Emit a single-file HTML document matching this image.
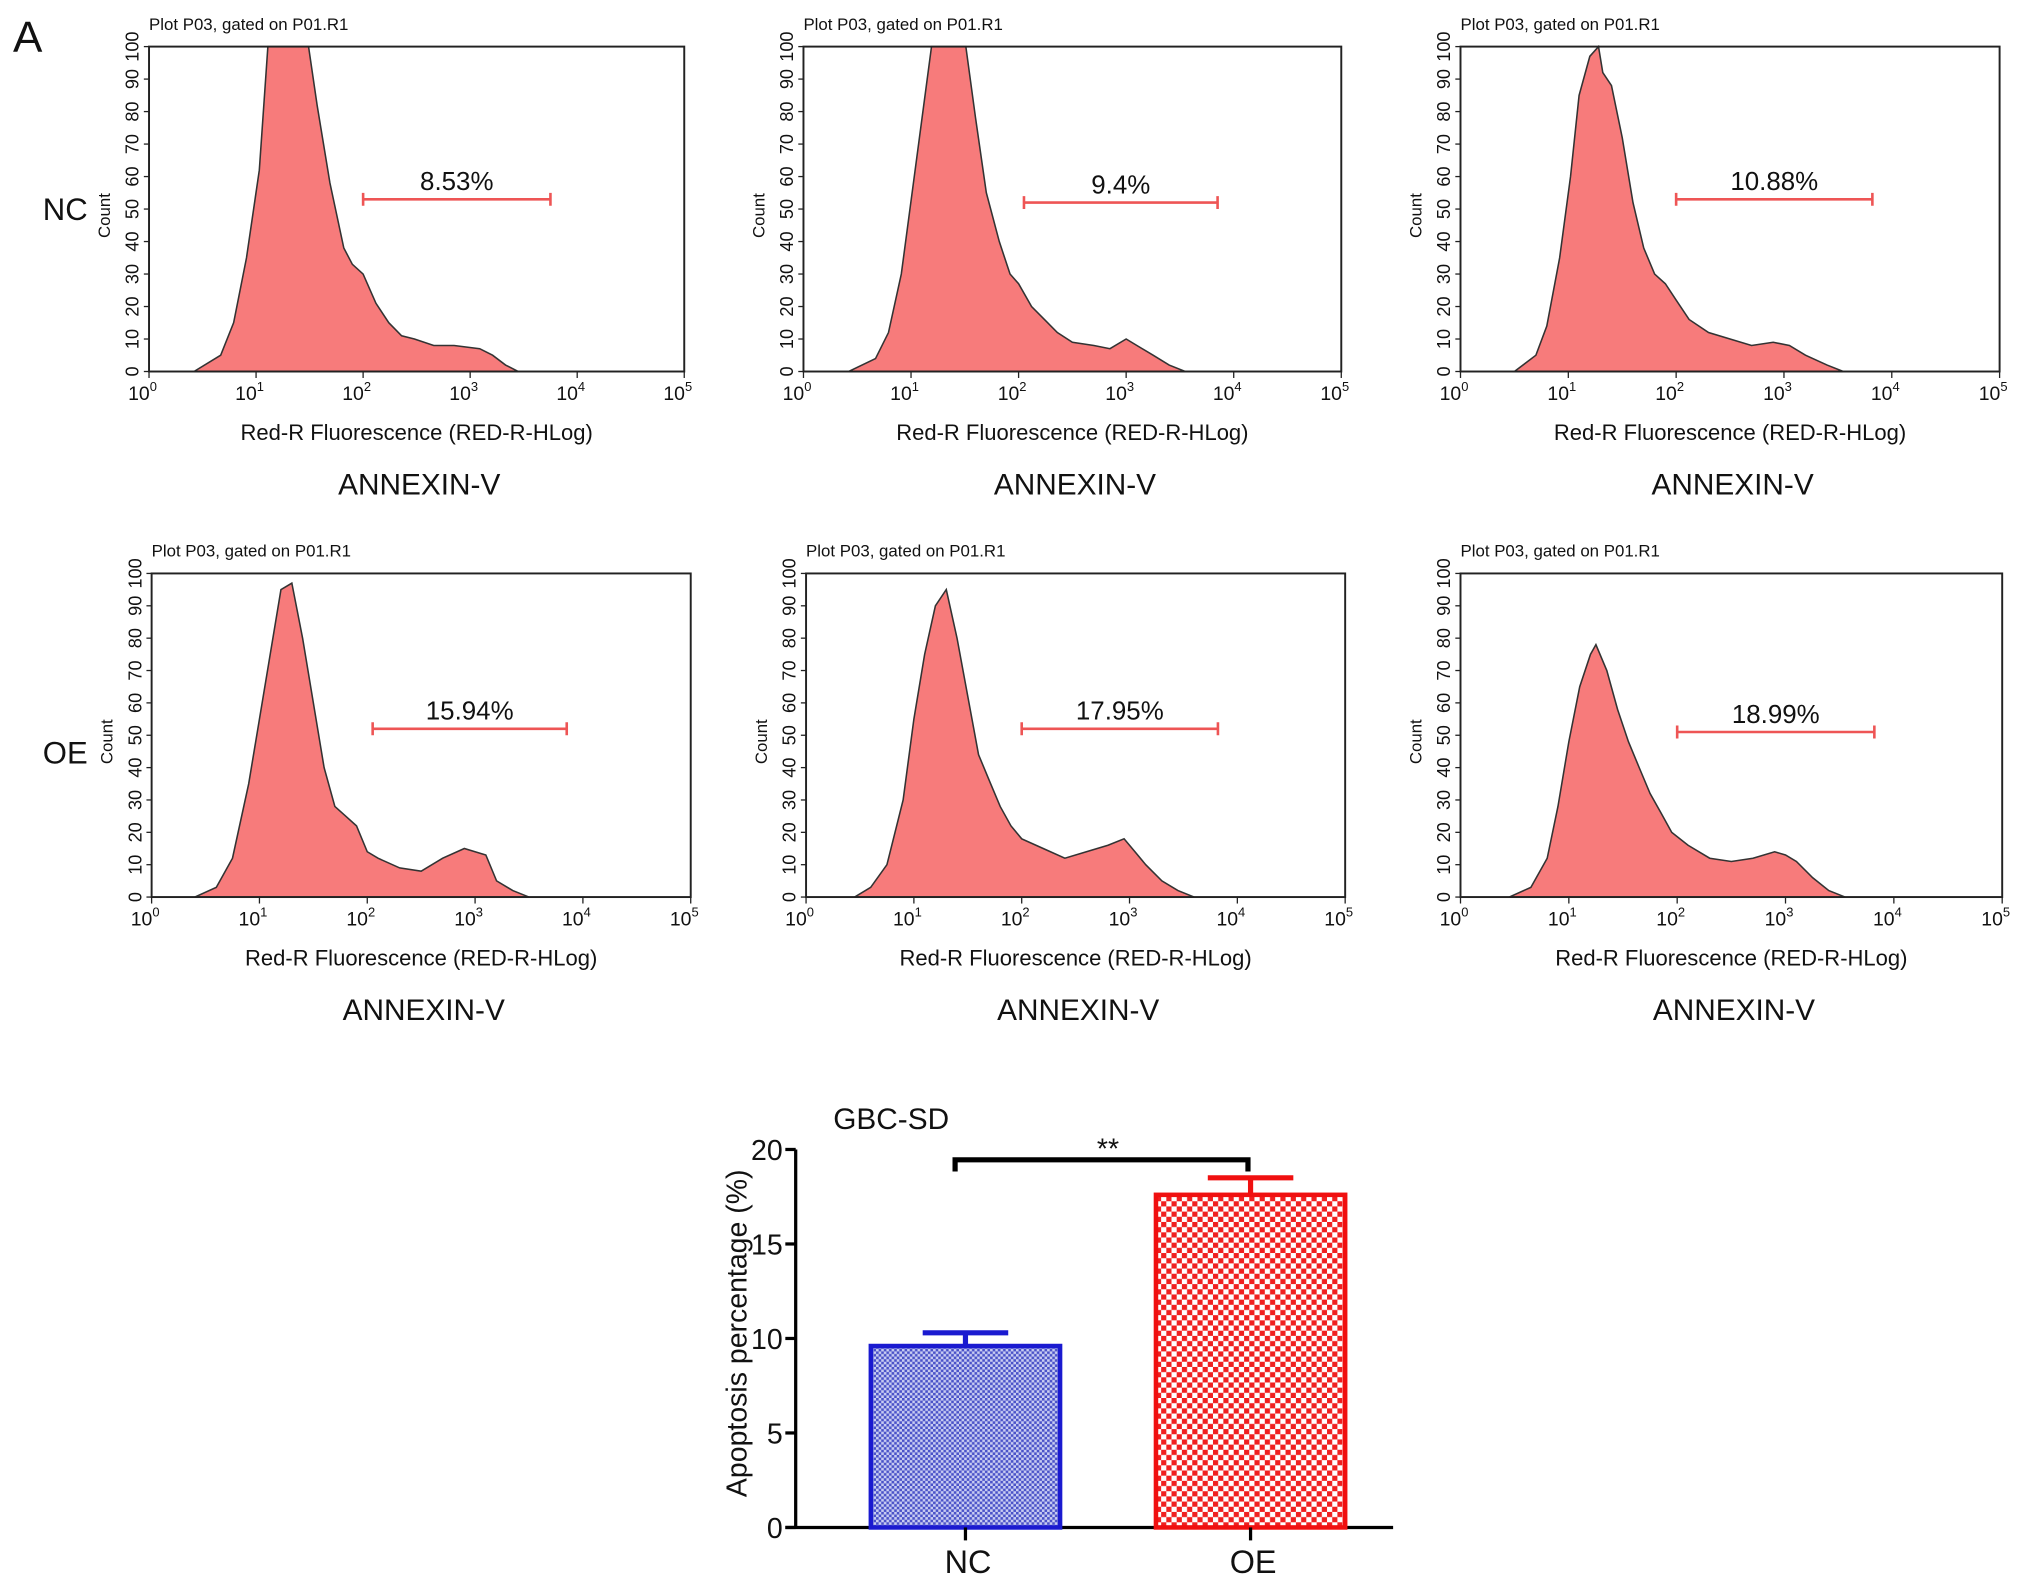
<!DOCTYPE html>
<html><head><meta charset="utf-8"><style>
html,body{margin:0;padding:0;background:#fff}
svg{display:block}
text{font-family:"Liberation Sans",Arial,sans-serif;fill:#111}
</style></head><body>
<svg id="fig" width="2032" height="1587" viewBox="0 0 1568 1226" preserveAspectRatio="none" xmlns="http://www.w3.org/2000/svg">
<defs>
<pattern id="bluePat" width="4" height="4" patternUnits="userSpaceOnUse"><rect width="4" height="4" fill="#c9cdf2"/><rect width="2" height="2" fill="#4a52c8"/><rect x="2" y="2" width="2" height="2" fill="#4a52c8"/></pattern>
<pattern id="redPat" width="8" height="8" patternUnits="userSpaceOnUse"><rect width="8" height="8" fill="#fff"/><rect width="4" height="4" fill="#f02020"/><rect x="4" y="4" width="4" height="4" fill="#f02020"/></pattern>
</defs>
<text x="10" y="40" font-size="34">A</text>
<text x="33" y="170" font-size="24">NC</text>
<text x="33" y="590" font-size="24">OE</text>
<g id="hists"></g>
<g id="bars"></g>
</svg>
<script>
const NS="http://www.w3.org/2000/svg";
function mk(tag,attrs,parent,txt){const e=document.createElementNS(NS,tag);for(const k in attrs)e.setAttribute(k,attrs[k]);if(txt!==undefined)e.textContent=txt;parent.appendChild(e);return e;}

// ---- Histogram data (x in log10 units, y = count) ----
const histLogX_nc1=[0.42,0.67,0.79,0.91,1.03,1.11,1.49,1.57,1.69,1.82,1.90,2.0,2.12,2.24,2.36,2.48,2.66,2.85,3.09,3.21,3.33,3.45];
const histCount_nc1=[0,5,15,35,62,100,100,82,58,38,33,30,21,15,11,10,8,8,7,5,2,0];
const histLogX_nc2=[0.42,0.67,0.79,0.91,1.03,1.19,1.51,1.6,1.7,1.82,1.92,2.0,2.12,2.24,2.36,2.5,2.7,2.85,3.0,3.1,3.25,3.4,3.55];
const histCount_nc2=[0,4,12,30,60,100,100,78,55,40,30,27,20,16,12,9,8,7,10,8,5,2,0];
const histLogX_nc3=[0.5,0.7,0.8,0.92,1.02,1.1,1.2,1.28,1.32,1.4,1.5,1.6,1.7,1.8,1.9,2.0,2.12,2.3,2.5,2.7,2.9,3.05,3.2,3.4,3.55];
const histCount_nc3=[0,5,14,35,60,85,97,100,92,88,72,52,38,30,27,22,16,12,10,8,9,8,5,2,0];
const histLogX_oe1=[0.4,0.6,0.75,0.9,1.0,1.1,1.2,1.3,1.4,1.5,1.6,1.7,1.8,1.9,2.0,2.1,2.3,2.5,2.7,2.9,3.0,3.1,3.2,3.35,3.5];
const histCount_oe1=[0,3,12,35,55,75,95,97,80,60,40,28,25,22,14,12,9,8,12,15,14,13,5,2,0];
const histLogX_oe2=[0.45,0.6,0.75,0.9,1.0,1.1,1.2,1.3,1.4,1.5,1.6,1.7,1.8,1.9,2.0,2.2,2.4,2.6,2.8,2.95,3.05,3.15,3.3,3.45,3.6];
const histCount_oe2=[0,3,10,30,55,75,90,95,80,62,44,36,28,22,18,15,12,14,16,18,14,10,5,2,0];
const histLogX_oe3=[0.45,0.65,0.8,0.9,1.0,1.1,1.2,1.25,1.35,1.45,1.55,1.65,1.75,1.85,1.95,2.1,2.3,2.5,2.7,2.9,3.0,3.1,3.25,3.4,3.55];
const histCount_oe3=[0,3,12,28,48,65,75,78,70,58,48,40,32,26,20,16,12,11,12,14,13,11,6,2,0];
const gatePct=["8.53%","9.4%","10.88%","15.94%","17.95%","18.99%"];
const gateLogStart=[2.0,2.05,2.0,2.05,2.0,2.0];
const gateLogEnd=[3.75,3.85,3.82,3.85,3.82,3.82];
const gateCount=[53,52,53,52,52,51];
const yTicks=[0,10,20,30,40,50,60,70,80,90,100];
const xTickExp=[0,1,2,3,4,5];

const panels=[
 {x0:115,x1:528,y0:36,y1:287,lx:histLogX_nc1,c:histCount_nc1},
 {x0:620,x1:1035,y0:36,y1:287,lx:histLogX_nc2,c:histCount_nc2},
 {x0:1127,x1:1543,y0:36,y1:287,lx:histLogX_nc3,c:histCount_nc3},
 {x0:117,x1:533,y0:443,y1:693,lx:histLogX_oe1,c:histCount_oe1},
 {x0:622,x1:1038,y0:443,y1:693,lx:histLogX_oe2,c:histCount_oe2},
 {x0:1127,x1:1545,y0:443,y1:693,lx:histLogX_oe3,c:histCount_oe3}
];
const hg=document.getElementById('hists');
panels.forEach((p,i)=>{
  const g=mk('g',{},hg);
  
  
  const sx=v=>p.x0+(p.x1-p.x0)*v/5;
  const sy=v=>p.y1-(p.y1-p.y0)*Math.min(v,100)/100;
  const t=mk('text',{x:p.x0,y:p.y0-13,'font-size':13},g,'Plot P03, gated on P01.R1');
  
  
  let d='M'+sx(p.lx[0])+','+sy(0);
  p.lx.forEach((lx,k)=>{d+=' L'+sx(lx).toFixed(1)+','+sy(p.c[k]).toFixed(1);});
  d+=' L'+sx(p.lx[p.lx.length-1])+','+sy(0)+' Z';
  const area=mk('path',{d:d,fill:'#f77b7b',stroke:'#333','stroke-width':1.2},g);
  
  
  const box=mk('rect',{x:p.x0,y:p.y0,width:p.x1-p.x0,height:p.y1-p.y0,fill:'none',stroke:'#222','stroke-width':1.5},g);
  
  
  yTicks.forEach(v=>{
    mk('line',{x1:p.x0-4,x2:p.x0,y1:sy(v),y2:sy(v),stroke:'#222'},g);
    const yt=mk('text',{x:0,y:0,'font-size':14,'text-anchor':'middle',transform:`translate(${p.x0-8},${sy(v)}) rotate(-90)`},g,String(v));
    
    
  });
  const yl=mk('text',{x:0,y:0,'font-size':13,'text-anchor':'middle',transform:`translate(${p.x0-30},${(p.y0+p.y1)/2+5}) rotate(-90)`},g,'Count');
  
  
  xTickExp.forEach(e=>{
    mk('line',{x1:sx(e),x2:sx(e),y1:p.y1,y2:p.y1+5,stroke:'#222'},g);
    const xt=mk('text',{x:sx(e)-5,y:p.y1+22,'font-size':15,'text-anchor':'middle'},g);
    
    
    mk('tspan',{},xt,'10');
    mk('tspan',{dy:-7,'font-size':10},xt,String(e));
  });
  const xl=mk('text',{x:(p.x0+p.x1)/2,y:p.y1+53,'font-size':17,'text-anchor':'middle'},g,'Red-R Fluorescence (RED-R-HLog)');
  
  
  const an=mk('text',{x:(p.x0+p.x1)/2+2,y:p.y1+95,'font-size':23,'text-anchor':'middle'},g,'ANNEXIN-V');
  
  
  const gy=sy(gateCount[i]),ga=sx(gateLogStart[i]),gb=sx(gateLogEnd[i]);
  const gl=mk('path',{d:`M${ga},${gy}H${gb}M${ga},${gy-5}V${gy+5}M${gb},${gy-5}V${gy+5}`,stroke:'#e55','stroke-width':2,fill:'none'},g);
  
  
  const gt=mk('text',{x:(ga+gb)/2,y:gy-7,'font-size':20,'text-anchor':'middle'},g,gatePct[i]);
  
  
});

// ---- Bar chart ----
const barCats=["NC","OE"];
const barMeans=[9.6,17.6];
const barErr=[0.7,0.9];
const barTicks=[0,5,10,15,20];
const bg=document.getElementById('bars');
const X0=614,X1=1075,Y0=1180,Y20=888;
const by=v=>Y0-(Y0-Y20)*v/20;
const bcx=[745,965], bw=146;
const fills=['url(#bluePat)','url(#redPat)'], strokes=['#1a1ad0','#f01010'];
mk('line',{x1:X0,x2:X0,y1:Y20,y2:Y0,stroke:'#000','stroke-width':2.5},bg);
mk('line',{x1:X0-8,x2:X1,y1:Y0,y2:Y0,stroke:'#000','stroke-width':2.5},bg);
barTicks.forEach(v=>{
  mk('line',{x1:X0-8,x2:X0,y1:by(v),y2:by(v),stroke:'#000','stroke-width':2.5},bg);
  const t=mk('text',{x:X0-10,y:by(v)+8,'font-size':22,'text-anchor':'end'},bg,String(v));
  
  
});
barCats.forEach((c,i)=>{
  const top=by(barMeans[i]);
  const r=mk('rect',{x:bcx[i]-bw/2,y:top,width:bw,height:Y0-top,fill:fills[i],stroke:strokes[i],'stroke-width':3.5},bg);
  
  
  const et=by(barMeans[i]+barErr[i]);
  const e=mk('path',{d:`M${bcx[i]},${top}V${et}M${bcx[i]-33},${et}H${bcx[i]+33}`,stroke:strokes[i],'stroke-width':4,fill:'none'},bg);
  
  
  mk('line',{x1:bcx[i],x2:bcx[i],y1:Y0,y2:Y0+10,stroke:'#000','stroke-width':2.5},bg);
  const t=mk('text',{x:bcx[i]+2,y:Y0+35,'font-size':25,'text-anchor':'middle'},bg,c);
  
  
});
const br=mk('path',{d:`M${bcx[0]-8},905V896H${bcx[1]-2}V905`,stroke:'#000','stroke-width':4,fill:'none'},bg);


const st=mk('text',{x:855,y:895,'font-size':22,'text-anchor':'middle'},bg,'**');


const ti=mk('text',{x:643,y:872,'font-size':23},bg,'GBC-SD');


const yl=mk('text',{x:0,y:0,'font-size':22,'text-anchor':'middle',transform:'translate(576,1030) rotate(-90)'},bg,'Apoptosis percentage (%)');


</script>
</body></html>
